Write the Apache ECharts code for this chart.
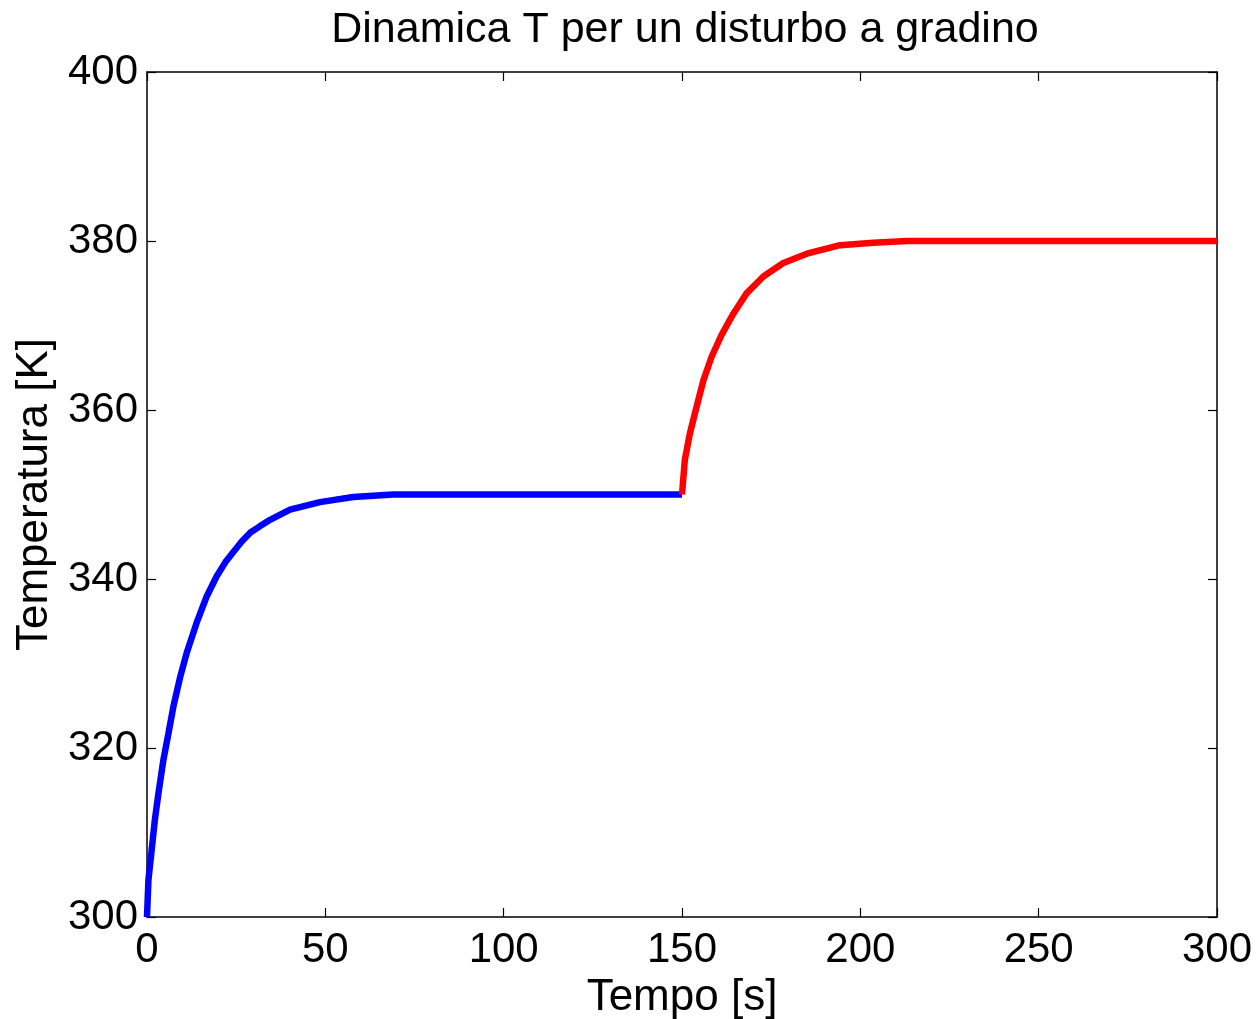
<!DOCTYPE html>
<html>
<head>
<meta charset="utf-8">
<script src="https://cdn.jsdelivr.net/npm/echarts@6/dist/echarts.min.js"></script>
<style>
  html, body { margin: 0; padding: 0; background: #fff; }
  #chart { width: 1257px; height: 1019px; }
</style>
</head>
<body>
<div id="chart"></div>
<script>
// tempo [s] e temperatura [K]
var tBlue = [0, 0.4, 1.3, 2.2, 3.2, 4.6, 6.0, 7.4, 9.3, 11.1, 13.9, 16.7, 19.5, 22.0, 24.2, 26.5, 29.0, 31.5, 34.5, 40.1, 48.5, 57.8, 69, 100, 150]
var TBlue = [300, 304.4, 307.9, 311.5, 314.6, 318.6, 321.7, 324.9, 328.4, 331.2, 334.8, 337.9, 340.3, 342.0, 343.2, 344.4, 345.5, 346.2, 347.0, 348.2, 349.1, 349.7, 350, 350, 350]
var tRed = [150, 150.8, 152.2, 154.1, 156.0, 158.3, 161.1, 164.4, 168.1, 172.8, 178.4, 185, 194.3, 203.6, 213, 250, 300]
var TRed = [350, 354.1, 357.2, 360.4, 363.5, 366.3, 368.9, 371.4, 373.8, 375.8, 377.4, 378.5, 379.5, 379.8, 380, 380, 380]
var xTicks = [0, 50, 100, 150, 200, 250, 300]
var yTicks = [300, 320, 340, 360, 380, 400]

var font = 'Liberation Sans, Arial, Helvetica, sans-serif'
function pairs(xs, ys) {
  var out = []
  for (var i = 0; i < xs.length; i++) out.push([xs[i], ys[i]])
  return out
}

var chart = echarts.init(document.getElementById('chart'))
var axisLine = { show: true, onZero: false, lineStyle: { color: '#000', width: 1.5 } }
var tick = { show: true, inside: true, length: 9, lineStyle: { color: '#000', width: 1.2 } }

chart.setOption({
  animation: false,
  backgroundColor: '#fff',
  title: {
    text: 'Dinamica T per un disturbo a gradino',
    left: 680, top: 4, textAlign: 'center',
    textStyle: { fontFamily: font, fontSize: 43, fontWeight: 'normal', color: '#000' }
  },
  grid: { left: 147, right: 40, top: 72, bottom: 102, containLabel: false, outerBoundsMode: 'none' },
  xAxis: [{
    type: 'value', min: xTicks[0], max: xTicks[xTicks.length - 1], interval: 50,
    name: 'Tempo [s]', nameLocation: 'middle', nameGap: 58,
    nameTextStyle: { fontFamily: font, fontSize: 44, color: '#000' },
    axisLine: axisLine, axisTick: tick, splitLine: { show: false },
    axisLabel: { fontFamily: font, fontSize: 42, color: '#000', margin: 12 }
  }, {
    type: 'value', position: 'top', min: xTicks[0], max: xTicks[xTicks.length - 1], interval: 50,
    axisLine: axisLine, axisTick: tick, splitLine: { show: false }, axisLabel: { show: false }
  }],
  yAxis: [{
    type: 'value', min: yTicks[0], max: yTicks[yTicks.length - 1], interval: 20,
    name: 'Temperatura [K]', nameLocation: 'middle', nameGap: 89,
    nameTextStyle: { fontFamily: font, fontSize: 44, color: '#000' },
    axisLine: axisLine, axisTick: tick, splitLine: { show: false },
    axisLabel: { fontFamily: font, fontSize: 42, color: '#000', margin: 9 }
  }, {
    type: 'value', position: 'right', min: yTicks[0], max: yTicks[yTicks.length - 1], interval: 20,
    axisLine: axisLine, axisTick: tick, splitLine: { show: false }, axisLabel: { show: false }
  }],
  series: [{
    type: 'line', data: pairs(tBlue, TBlue), showSymbol: false, symbol: 'none',
    lineStyle: { color: '#0000ff', width: 6.5 }, z: 3
  }, {
    type: 'line', data: pairs(tRed, TRed), showSymbol: false, symbol: 'none',
    lineStyle: { color: '#ff0000', width: 6.5 }, z: 3
  }]
})
</script>
</body>
</html>
